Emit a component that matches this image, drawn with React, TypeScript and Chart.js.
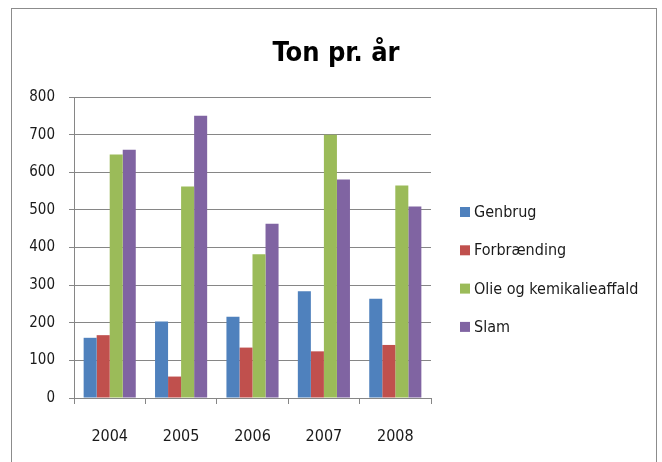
import React, { useEffect, useRef } from 'react';
import { Chart, registerables } from 'chart.js';

Chart.register(...registerables);

const categories = ['2004', '2005', '2006', '2007', '2008'];
const genbrug = [160, 203, 216, 284, 264];
const forbraending = [167, 57, 134, 124, 141];
const olie = [647, 562, 382, 700, 565];
const slam = [660, 750, 463, 581, 509];
const seriesNames = ['Genbrug', 'Forbrænding', 'Olie og kemikalieaffald', 'Slam'];
const seriesColors = ['#4F81BD', '#C0504D', '#9BBB59', '#8064A2'];
const titleText = 'Ton pr. år';
const yMin = 0;
const yMax = 800;
const yStep = 100;

const FONT = "'DejaVu Sans Condensed', 'Liberation Sans Narrow', 'Open Sans', sans-serif";

const framePlugin = {
  id: 'frame',
  beforeDraw(chart: any) {
    const { ctx, width, height } = chart;
    ctx.save();
    ctx.fillStyle = '#ffffff';
    ctx.fillRect(0, 0, width, height);
    ctx.strokeStyle = '#8c8c8c';
    ctx.lineWidth = 1;
    ctx.strokeRect(11.5, 8.5, 645, 470);
    ctx.restore();
  },
  afterDraw(chart: any) {
    const { ctx } = chart;
    ctx.save();
    ctx.font = `bold 27px ${FONT}`;
    ctx.fillStyle = '#000';
    ctx.textAlign = 'center';
    ctx.textBaseline = 'alphabetic';
    ctx.fillText(titleText, 336, 61);
    ctx.restore();
  },
};

const legendPlugin = {
  id: 'sideLegend',
  afterDraw(chart: any) {
    const { ctx, chartArea } = chart;
    const x = chartArea.right + 29;
    const y0 = chartArea.top + 115;
    ctx.save();
    ctx.font = `16px ${FONT}`;
    ctx.textBaseline = 'middle';
    ctx.textAlign = 'left';
    chart.data.datasets.forEach((ds: any, i: number) => {
      const y = y0 + i * 38.3;
      ctx.fillStyle = ds.backgroundColor;
      ctx.fillRect(x, y - 5, 10, 10);
      ctx.fillStyle = '#1a1a1a';
      ctx.fillText(ds.label, x + 14, y + 1);
    });
    ctx.restore();
  },
};

export default function App() {
  const ref = useRef<HTMLCanvasElement | null>(null);

  useEffect(() => {
    if (!ref.current) return;
    const seriesValues = [genbrug, forbraending, olie, slam];
    const chart = new Chart(ref.current, {
      type: 'bar',
      data: {
        labels: categories,
        datasets: seriesValues.map((vals, i) => ({
          label: seriesNames[i],
          data: vals,
          backgroundColor: seriesColors[i],
          borderWidth: 0,
          categoryPercentage: 0.73,
          barPercentage: 1.0,
        })),
      },
      options: {
        animation: false,
        responsive: false,
        maintainAspectRatio: false,
        devicePixelRatio: 1,
        layout: { padding: { left: 0, right: 231, top: 97, bottom: 0 } },
        plugins: {
          legend: { display: false },
          tooltip: { enabled: false },
          title: { display: false },
        },
        scales: {
          x: {
            grid: {
              display: true,
              drawOnChartArea: false,
              drawTicks: true,
              tickLength: 6,
              color: '#868686',
            },
            border: { display: true, color: '#868686' },
            ticks: {
              color: '#1a1a1a',
              font: { family: FONT, size: 16 },
              padding: 23,
            },
            afterFit: (scale: any) => {
              scale.height = 64;
            },
          },
          y: {
            min: yMin,
            max: yMax,
            ticks: {
              stepSize: yStep,
              color: '#1a1a1a',
              font: { family: FONT, size: 15 },
              padding: 14,
            },
            grid: {
              color: '#868686',
              tickLength: 5,
            },
            border: { display: true, color: '#868686' },
            afterFit: (scale: any) => {
              scale.width = 74;
            },
          },
        },
      },
      plugins: [framePlugin, legendPlugin],
    });
    return () => chart.destroy();
  }, []);

  return (
    <div style={{ position: 'fixed', left: 0, top: 0, width: 662, height: 462 }}>
      <canvas ref={ref} width={662} height={462} style={{ width: 662, height: 462 }} />
    </div>
  );
}
